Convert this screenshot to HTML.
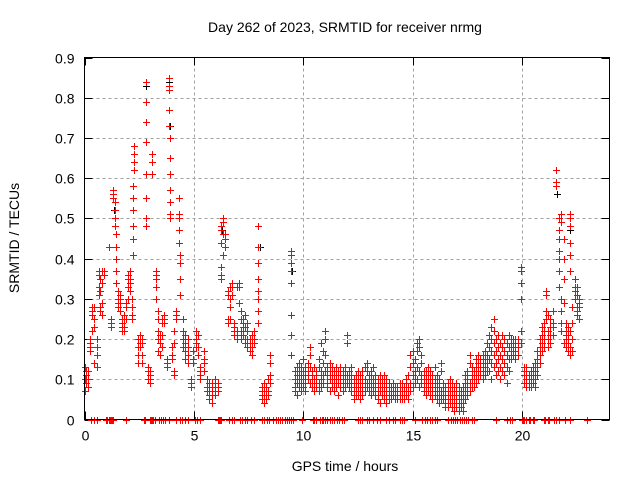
<!DOCTYPE html>
<html><head><meta charset="utf-8"><style>
body{margin:0;background:#fff;}
svg{display:block;font-family:"Liberation Sans",sans-serif;}
</style></head><body>
<svg id="chart" width="640" height="480" viewBox="0 0 640 480">
<rect width="640" height="480" fill="#fff"/>
<g id="grid"></g>
<g id="axes"></g>
<g id="blackmarks" stroke="#000000" fill="none" shape-rendering="crispEdges"></g>
<g id="marks" stroke="#ff0000" fill="none" shape-rendering="crispEdges"></g>
<rect x="84.5" y="57.5" width="525" height="362" fill="none" stroke="#000" stroke-width="1"/>
<text x="345" y="32" font-size="14" text-anchor="middle">Day 262 of 2023, SRMTID for receiver nrmg</text>
<text x="345" y="471" font-size="14" text-anchor="middle">GPS time / hours</text>
<text x="0" y="0" font-size="14" text-anchor="middle" transform="translate(19,238) rotate(-90)">SRMTID / TECUs</text>
</svg>
<script>
const xTicks = [0,5,10,15,20];
const yTicks = [0,0.1,0.2,0.3,0.4,0.5,0.6,0.7,0.8,0.9];
const yTickLabels = ["0","0.1","0.2","0.3","0.4","0.5","0.6","0.7","0.8","0.9"];
const groupHours = [0.02,0.08,0.15,0.25,0.35,0.45,0.55,0.65,0.72,0.8,0.88,1.1,1.2,1.3,1.38,1.45,1.52,1.6,1.7,1.8,1.9,2.0,2.08,2.15,2.22,2.28,2.45,2.55,2.65,2.8,2.9,3.0,3.08,3.28,3.35,3.45,3.55,3.65,3.75,3.85,3.92,4.0,4.1,4.2,4.3,4.38,4.5,4.6,4.72,4.85,4.95,5.1,5.2,5.3,5.45,5.6,5.7,5.82,5.95,6.1,6.25,6.33,6.42,6.55,6.65,6.75,6.85,6.95,7.05,7.15,7.25,7.35,7.45,7.55,7.65,7.75,7.95,8.1,8.2,8.3,8.4,8.5,9.45,9.6,9.7,9.8,9.9,10.0,10.1,10.2,10.3,10.4,10.5,10.6,10.7,10.8,10.9,11.0,11.1,11.2,11.3,11.4,11.5,11.6,11.7,11.8,11.9,12.0,12.1,12.2,12.3,12.4,12.5,12.6,12.7,12.8,12.9,13.0,13.1,13.2,13.3,13.4,13.5,13.6,13.7,13.8,13.9,14.0,14.1,14.2,14.3,14.4,14.5,14.6,14.7,14.8,14.9,15.0,15.1,15.2,15.3,15.4,15.5,15.6,15.7,15.8,15.9,16.0,16.1,16.2,16.3,16.4,16.5,16.6,16.7,16.8,16.9,17.0,17.1,17.2,17.3,17.4,17.5,17.6,17.7,17.8,17.9,18.0,18.1,18.2,18.3,18.4,18.5,18.6,18.7,18.8,18.9,19.0,19.1,19.2,19.3,19.4,19.5,19.6,19.7,19.8,19.95,20.1,20.2,20.3,20.4,20.5,20.6,20.7,20.8,20.9,21.0,21.1,21.2,21.3,21.4,21.55,21.7,21.8,21.9,22.0,22.1,22.2,22.3,22.4,22.5,22.6];
const groupValues = [[0.10,0.13,0.07],[0.09,0.11,0.12],[0.10,0.08,0.12],[0.19,0.20,0.17,0.18],[0.28,0.27,0.26,0.22],[0.28,0.25,0.23,0.14],[0.20,0.16,0.13,0.18],[0.37,0.36,0.33,0.31],[0.28,0.27,0.32,0.35],[0.37,0.34,0.29,0.26],[0.37,0.36],[0.43],[0.24,0.25,0.23],[0.57,0.56,0.55],[0.54,0.52,0.50,0.48],[0.46,0.43,0.40,0.37,0.34],[0.32,0.30,0.28,0.29],[0.30,0.29,0.31,0.27],[0.23,0.22,0.24,0.25],[0.23,0.25,0.26,0.22],[0.29,0.28,0.25],[0.36,0.35,0.33,0.30],[0.37,0.34,0.32,0.35],[0.30,0.26,0.25,0.28],[0.41,0.45,0.48,0.52,0.55,0.58],[0.62,0.64,0.66,0.68],[0.14,0.18,0.20,0.16],[0.21,0.19,0.18,0.20],[0.20,0.19,0.16,0.14],[0.84,0.79,0.74,0.69,0.61,0.55,0.50,0.48],[0.12,0.10,0.13],[0.09,0.11,0.12,0.10],[0.66,0.64,0.61],[0.37,0.36,0.35,0.33,0.30],[0.27,0.25,0.22,0.20,0.17],[0.16,0.21,0.20,0.19],[0.21,0.24,0.25,0.18],[0.26,0.25,0.24],[0.14,0.13,0.15],[0.85,0.83,0.82,0.77,0.73],[0.70,0.65,0.61,0.57,0.54,0.51,0.50],[0.16,0.18,0.15],[0.12,0.11,0.19,0.22],[0.26,0.25,0.27],[0.51,0.50,0.55,0.47,0.44],[0.41,0.39,0.35,0.31],[0.20,0.22,0.25,0.18],[0.17,0.21,0.19,0.15],[0.16,0.14,0.18,0.20],[0.08,0.10,0.09],[0.15,0.17,0.14],[0.20,0.18,0.22,0.19],[0.16,0.18,0.21],[0.13,0.12,0.10,0.11],[0.15,0.17,0.12,0.14],[0.08,0.07,0.10],[0.06,0.05,0.09,0.08],[0.07,0.06,0.04,0.09],[0.08,0.10,0.07,0.06],[0.09,0.08,0.07],[0.48,0.47,0.44,0.38,0.36,0.35],[0.50,0.49,0.46,0.41],[0.46,0.43,0.45],[0.32,0.31,0.25,0.24],[0.33,0.30,0.28,0.25],[0.34,0.33,0.31],[0.22,0.23,0.21,0.24],[0.22,0.21,0.20,0.33],[0.34,0.33,0.29],[0.27,0.25,0.22,0.20],[0.25,0.23,0.21,0.24],[0.26,0.23,0.19,0.20],[0.22,0.24,0.20,0.18],[0.20,0.18,0.17,0.19],[0.21,0.20,0.16,0.18],[0.19,0.22,0.20],[0.48,0.43,0.39,0.35,0.32,0.30,0.27,0.24],[0.05,0.07,0.06,0.08],[0.04,0.06,0.09,0.07],[0.05,0.06,0.08],[0.07,0.06,0.10],[0.14,0.16,0.09,0.11],[0.42,0.41,0.39,0.37,0.34,0.26,0.21,0.16],[0.08,0.10,0.12,0.07],[0.11,0.09,0.13,0.06],[0.10,0.12,0.08,0.14],[0.09,0.11,0.13,0.07],[0.12,0.10,0.15,0.08],[0.11,0.13,0.09,0.07],[0.14,0.12,0.10],[0.16,0.18,0.13,0.09],[0.11,0.09,0.08,0.12],[0.10,0.13,0.07,0.09],[0.12,0.10,0.08,0.11],[0.09,0.13,0.15,0.07],[0.10,0.12,0.08,0.19],[0.11,0.14,0.09,0.17],[0.20,0.22,0.16,0.12],[0.09,0.11,0.13,0.08],[0.10,0.07,0.12,0.14],[0.09,0.11,0.08,0.13],[0.12,0.10,0.07,0.09],[0.11,0.13,0.08,0.10],[0.10,0.09,0.12,0.06],[0.13,0.11,0.08,0.10],[0.11,0.09,0.12,0.07],[0.10,0.12,0.08,0.13],[0.21,0.19,0.11,0.09],[0.12,0.10,0.08,0.11],[0.09,0.11,0.07,0.13],[0.06,0.08,0.10,0.05],[0.07,0.09,0.11,0.06],[0.08,0.10,0.06,0.12],[0.09,0.07,0.11,0.05],[0.10,0.08,0.06,0.12],[0.08,0.10,0.07,0.13],[0.14,0.12,0.09,0.08],[0.11,0.09,0.07,0.10],[0.12,0.08,0.06,0.10],[0.10,0.07,0.09,0.13],[0.09,0.06,0.11,0.08],[0.08,0.10,0.06,0.05],[0.07,0.09,0.11,0.04],[0.06,0.08,0.10,0.07],[0.09,0.07,0.05,0.11],[0.06,0.08,0.10,0.04],[0.07,0.09,0.05,0.08],[0.06,0.08,0.07,0.05],[0.09,0.07,0.06,0.08],[0.05,0.07,0.06,0.08],[0.08,0.06,0.05,0.07],[0.06,0.08,0.09,0.05],[0.07,0.05,0.09,0.06],[0.08,0.06,0.07,0.05],[0.06,0.09,0.10,0.07],[0.07,0.05,0.08,0.11],[0.13,0.16,0.09,0.07],[0.14,0.17,0.11,0.08],[0.12,0.15,0.10,0.09],[0.19,0.17,0.13,0.10],[0.20,0.18,0.12,0.08],[0.14,0.16,0.11,0.09],[0.12,0.10,0.08,0.07],[0.10,0.12,0.08,0.06],[0.11,0.09,0.07,0.13],[0.08,0.10,0.06,0.12],[0.09,0.07,0.11,0.05],[0.08,0.10,0.13,0.06],[0.07,0.09,0.11,0.05],[0.08,0.06,0.10,0.04],[0.14,0.12,0.07,0.05],[0.06,0.08,0.05,0.09],[0.04,0.06,0.08,0.03],[0.05,0.07,0.03,0.09],[0.06,0.04,0.08,0.10],[0.05,0.03,0.07,0.09],[0.04,0.06,0.08,0.02],[0.05,0.07,0.03,0.09],[0.04,0.06,0.02,0.08],[0.05,0.03,0.07,0.06],[0.04,0.02,0.06,0.08],[0.07,0.05,0.09,0.11],[0.08,0.10,0.06,0.12],[0.14,0.16,0.09,0.07],[0.11,0.09,0.13,0.08],[0.10,0.08,0.12,0.09],[0.11,0.13,0.09,0.15],[0.12,0.14,0.10,0.16],[0.13,0.11,0.15,0.12],[0.16,0.14,0.12,0.10],[0.17,0.15,0.13,0.11],[0.19,0.16,0.14,0.12],[0.21,0.18,0.15,0.12],[0.23,0.20,0.17,0.14,0.10],[0.22,0.19,0.16,0.13,0.25],[0.20,0.17,0.14,0.11],[0.18,0.21,0.15,0.12],[0.16,0.19,0.13,0.10],[0.18,0.15,0.21,0.12],[0.14,0.17,0.11,0.20],[0.16,0.19,0.13,0.09],[0.15,0.18,0.12,0.21],[0.17,0.19,0.15,0.20],[0.18,0.20,0.16,0.19],[0.19,0.17,0.20,0.15],[0.18,0.16,0.19,0.20],[0.38,0.37,0.34,0.30,0.22,0.19],[0.13,0.11,0.09,0.12],[0.10,0.08,0.12,0.13],[0.09,0.11,0.08,0.10],[0.10,0.12,0.09,0.08],[0.11,0.09,0.13,0.10],[0.12,0.10,0.14,0.08],[0.15,0.13,0.11,0.17],[0.16,0.18,0.14,0.20],[0.21,0.19,0.23,0.17],[0.22,0.24,0.20,0.18],[0.27,0.32,0.31,0.25],[0.26,0.22,0.20,0.18],[0.21,0.23,0.19,0.25],[0.24,0.21,0.27,0.23],[0.62,0.59,0.58],[0.50,0.47,0.45,0.42,0.40,0.37,0.33],[0.51,0.49,0.30,0.27,0.24,0.22],[0.45,0.40,0.35,0.29,0.19],[0.22,0.20,0.18,0.24,0.21],[0.17,0.19,0.21,0.23],[0.51,0.50,0.48,0.44,0.41,0.37,0.22,0.18,0.16],[0.24,0.20,0.28,0.17],[0.35,0.33,0.32,0.30],[0.33,0.31,0.28,0.27,0.26],[0.30,0.29,0.25,0.28]];
const zeroHours = [0.3,0.45,0.55,1.0,1.05,1.1,1.15,1.2,1.25,1.3,1.9,2.7,2.75,3.0,3.05,3.1,3.15,3.2,3.4,3.5,3.6,3.7,3.85,4.2,4.35,4.45,4.6,4.75,5.05,5.15,5.3,6.1,6.15,6.2,6.25,6.6,6.75,6.85,7.1,7.2,7.35,7.45,7.6,7.75,8.1,8.2,8.35,8.45,8.6,8.75,8.85,8.95,9.05,9.15,9.25,9.35,9.45,9.55,9.95,10.45,10.5,10.6,10.75,10.85,10.9,11.0,11.1,11.2,11.3,11.4,11.55,11.65,11.75,11.85,12.5,12.6,12.7,12.9,13.0,13.2,13.35,13.5,13.8,13.9,14.1,14.2,14.4,14.5,14.6,15.1,15.45,15.55,15.65,15.8,15.9,16.0,16.1,16.6,16.75,16.85,16.95,17.05,17.15,17.25,17.35,17.45,17.55,17.7,17.8,18.8,19.3,19.45,19.55,20.0,20.05,20.1,20.2,20.3,20.35,20.5,20.55,21.0,21.05,21.2,21.25,21.45,21.55,21.7,21.95,22.2,22.95];
const blackHours = [2.25,2.8,3.85,3.9,8.0,9.5,1.35,6.3,21.6,22.2];
const blackValues = [0.68,0.83,0.84,0.73,0.43,0.37,0.52,0.47,0.56,0.47];

const X0=84.5, X1=609.5, Y0=419.5, Y1=57.5;
function xs(h){return X0+(h/24)*(X1-X0);}
function ys(v){return Y0-(v/0.9)*(Y0-Y1);}
const NS='http://www.w3.org/2000/svg';
const grid=document.getElementById('grid'), axes=document.getElementById('axes'), marks=document.getElementById('marks'), bmarks=document.getElementById('blackmarks');
function mk(tag,attrs,parent){const e=document.createElementNS(NS,tag);for(const k in attrs)e.setAttribute(k,attrs[k]);parent.appendChild(e);return e;}

yTicks.forEach((v,i)=>{
  const y=Math.round(ys(v))+0.5;
  if(i>0&&i<yTicks.length-1){
    const g=mk('line',{x1:X0,x2:X1,y1:y,y2:y,stroke:'#a0a0a0','stroke-dasharray':'3,3'},grid);
    
    
  }
  const t1=mk('path',{d:`M${X0},${y}h8M${X1},${y}h-8`,stroke:'#000'},axes);
  
  
  const lab=mk('text',{x:X0-10,y:y+5,'font-size':14,'text-anchor':'end'},axes);
  lab.textContent=yTickLabels[i];
  
  
});
xTicks.forEach((h,i)=>{
  const x=Math.round(xs(h))+0.5;
  if(i>0){
    const g=mk('line',{x1:x,x2:x,y1:Y0,y2:Y1,stroke:'#a0a0a0','stroke-dasharray':'3,3'},grid);
    
    
  }
  const t=mk('path',{d:`M${x},${Y0}v-8M${x},${Y1}v8`,stroke:'#000'},axes);
  
  
  const lab=mk('text',{x:x,y:Y0+21,'font-size':14,'text-anchor':'middle'},axes);
  lab.textContent=String(h);
  
  
});

function plusD(h,v){
  const x=Math.round(xs(h)), y=Math.round(ys(v));
  return `M${x-3},${y+0.5}h7M${x+0.5},${y-3}v7`;
}
blackHours.forEach((h,i)=>{
  const p=mk('path',{d:plusD(h,blackValues[i]),stroke:'#000000'},bmarks);
  
  
});
groupHours.forEach((h,i)=>{
  const d=groupValues[i].map(v=>plusD(h,v)).join('');
  const p=mk('path',{d:d,stroke:'#ff0000'},marks);
  
  
});
zeroHours.forEach(h=>{
  const p=mk('path',{d:plusD(h,0),stroke:'#ff0000'},marks);
  
  
});
</script>
</body></html>
